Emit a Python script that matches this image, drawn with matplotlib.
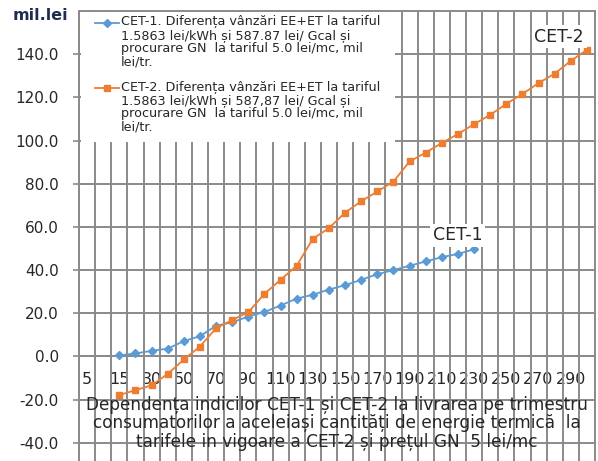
import numpy as np
import matplotlib
matplotlib.use("Agg")
import matplotlib.pyplot as plt
from matplotlib.patches import Rectangle
from matplotlib.lines import Line2D
from matplotlib.ticker import FixedLocator, FuncFormatter

# Category axis (thermal energy quantity steps)
categories = [5, 10, 15, 20] + list(range(30, 301, 10))

# CET-1: values from category 15 up to 230
cet1_values = [0.5, 1.4, 2.6, 3.6, 7.1, 9.4, 14.2, 15.8, 18.5, 20.6, 23.6, 26.8,
               28.6, 31.0, 33.0, 35.5, 38.1, 40.0, 42.0, 44.0, 46.0, 47.5, 49.6]
# CET-2: values from category 15 up to 300
cet2_values = [-17.9, -15.6, -13.4, -8.1, -1.4, 4.6, 13.1, 16.9, 20.5, 29.0, 35.5, 42.0,
               54.5, 59.4, 66.6, 71.9, 76.4, 81.0, 90.3, 94.4, 98.9, 103.0, 107.6, 111.9,
               117.0, 121.6, 126.6, 131.0, 136.9, 142.0]
first_cat = 2  # both series start at category 15

y_ticks = list(range(-40, 141, 20))

legend_cet1 = ("CET-1. Diferența vânzări EE+ET la tariful\n"
               "1.5863 lei/kWh și 587.87 lei/ Gcal și\n"
               "procurare GN  la tariful 5.0 lei/mc, mil\n"
               "lei/tr.")
legend_cet2 = ("CET-2. Diferența vânzări EE+ET la tariful\n"
               "1.5863 lei/kWh și 587,87 lei/ Gcal și\n"
               "procurare GN  la tariful 5.0 lei/mc, mil\n"
               "lei/tr.")
x_title = ["Dependența indicilor CET-1 și CET-2 la livrarea pe trimestru",
           "consumatorilor a aceleiași cantități de energie termică  la",
           "tarifele in vigoare a CET-2 și prețul GN  5 lei/mc"]
y_unit = "mil.lei"

BLUE = "#5B9BD5"
ORANGE = "#ED7D31"
GRID = "#8a8a8a"
TXT = "#262626"

plt.rcParams["font.family"] = ["DejaVu Sans"]

W, H = 598, 461
fig = plt.figure(figsize=(W / 100, H / 100), dpi=100)

def fx(px):
    return px / W

def fy(py):
    return 1 - py / H

# axes: x from 79 to 595 px, y range -60..160 with 160 at 11 px and -60 at 486 px
ax_left, ax_right = 79, 595
ax_top, ax_bottom = 11, 486
ax = fig.add_axes([fx(ax_left), fy(ax_bottom), (ax_right - ax_left) / W, (ax_bottom - ax_top) / H])

n = len(categories)
x = np.arange(n)
s1 = np.full(n, np.nan)
s1[first_cat:first_cat + len(cet1_values)] = cet1_values
s2 = np.full(n, np.nan)
s2[first_cat:first_cat + len(cet2_values)] = cet2_values

ax.plot(x, s1, color=BLUE, lw=1.3, marker="D", ms=3.6, mec=BLUE, mfc=BLUE, zorder=5)
ax.plot(x, s2, color=ORANGE, lw=1.3, marker="s", ms=5, mec=ORANGE, mfc=ORANGE, zorder=5)

ax.set_xlim(-0.5, n - 0.5)
ax.set_ylim(-60, 160)

# y axis
ax.set_yticks(y_ticks)
ax.yaxis.set_major_formatter(FuncFormatter(lambda v, p: f"{v:.1f}"))
ax.tick_params(axis="y", direction="inout", length=9, width=1.2, color=GRID,
               labelsize=11, labelcolor=TXT, pad=10)
ax.yaxis.grid(True, color=GRID, lw=1.4)

# x axis: labels at category centres, every second one; gridlines at boundaries
ax.set_xticks(x)
ax.set_xticklabels([str(c) if i % 2 == 0 else "" for i, c in enumerate(categories)])
ax.xaxis.set_minor_locator(FixedLocator(np.arange(n + 1) - 0.5))
ax.tick_params(axis="x", which="major", length=0, labelsize=11.5, labelcolor=TXT, pad=11)
ax.tick_params(axis="x", which="minor", length=0)
ax.xaxis.grid(True, which="minor", color=GRID, lw=1.4)
ax.xaxis.grid(False, which="major")

for sp in ax.spines.values():
    sp.set_color(GRID)
    sp.set_linewidth(1.4)
ax.spines["bottom"].set_position(("data", 0))
ax.set_axisbelow(True)

# legend panel
ax.add_patch(Rectangle((fx(81), fy(142)), fx(395) - fx(81), fy(12.5) - fy(142),
                       transform=fig.transFigure, facecolor="white", edgecolor="none",
                       zorder=2, clip_on=False))
for ly, col, mk, ms, label in [(23, BLUE, "D", 3.6, legend_cet1),
                               (88, ORANGE, "s", 5, legend_cet2)]:
    fig.add_artist(Line2D([fx(95), fx(119)], [fy(ly), fy(ly)], color=col, lw=1.3, zorder=6))
    fig.add_artist(Line2D([fx(107)], [fy(ly)], color=col, marker=mk, ms=ms, zorder=6))
    fig.text(fx(121), fy(ly - 7.5), label, ha="left", va="top", fontsize=9.2,
             color=TXT, linespacing=1.04, zorder=6)

# series name labels at the last point
last1 = first_cat + len(cet1_values) - 1
last2 = first_cat + len(cet2_values) - 1
bb = dict(boxstyle="square,pad=0.15", fc="white", ec="none")
ax.annotate("CET-1", (x[last1], s1[last1]), xytext=(-12, 10), textcoords="offset points",
            ha="center", va="center", fontsize=12.5, color=TXT, bbox=bb, zorder=7)
ax.annotate("CET-2", (x[last2], s2[last2]), xytext=(-20, 9.5), textcoords="offset points",
            ha="center", va="center", fontsize=12.5, color=TXT, bbox=bb, zorder=7)

# axis titles
fig.text(fx(40), fy(16), y_unit, ha="center", va="center", fontsize=11.5,
         fontweight="bold", color="#1f2d4f")
for py, line in zip([405, 423, 442], x_title):
    fig.text(fx(337), fy(py), line, ha="center", va="center", fontsize=12.2, color=TXT, zorder=6)

fig.savefig("out.png", dpi=100)
